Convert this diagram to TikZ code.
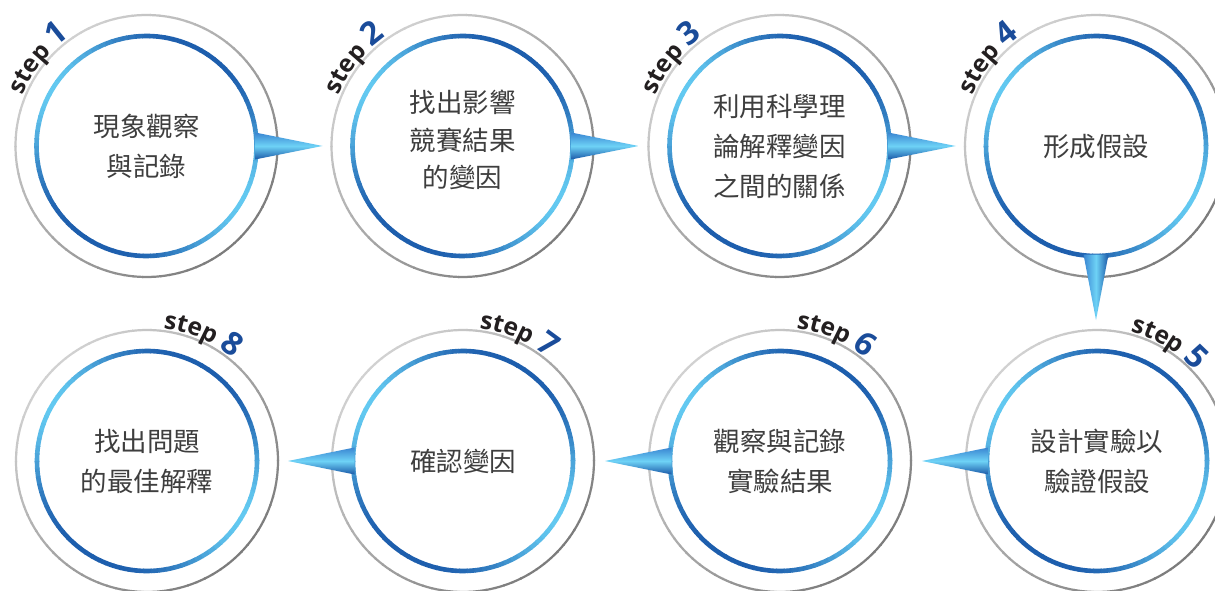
\documentclass[tikz,border=0pt]{standalone}
\usepackage{fontspec}
\newfontfamily\cjk{Noto Sans CJK TC}
\newfontfamily\stepfamily{Open Sans}
\usetikzlibrary{calc,decorations.text,shadings}
\definecolor{ringdark}{HTML}{1D5EAD}
\definecolor{ringlight}{HTML}{63C9F1}
\definecolor{greylight}{HTML}{D2D2D2}
\definecolor{greydark}{HTML}{7C7C7C}
\definecolor{arrdark}{HTML}{1A58A8}
\definecolor{arrmid}{HTML}{3A86D2}
\definecolor{arrlight}{HTML}{6ED2F6}
\definecolor{txtgrey}{HTML}{3E3E3E}
\definecolor{stepblack}{HTML}{231F20}
\definecolor{stepblue}{HTML}{1A4C9A}
\newcommand\stepfnt{\stepfamily\bfseries\fontsize{24.5}{24.5}\selectfont\color{stepblack}}
\newcommand\numfnt{\stepfamily\bfseries\fontsize{32}{32}\selectfont\color{stepblue}}
\newcommand\steplabel[3]{\path[decorate, decoration={text along path, text={|\stepfnt|step |\numfnt|#3}}] ($(#1.center)+(#2:133.5)$) arc[start angle=#2, end angle=#2-90, radius=133.5];}
\tikzset{
  lbl/.style={circle, minimum size=220pt, inner sep=0pt, align=center,
    font=\cjk\fontsize{26.5}{40}\selectfont, text=txtgrey},
  harrow/.style={top color=arrmid, bottom color=arrdark, middle color=arrlight},
  varrow/.style={left color=arrmid, right color=arrdark, middle color=arrlight}
}
\begin{document}
\begin{tikzpicture}[x=1pt,y=1pt]
\useasboundingbox (0,0) rectangle (1215,590);
\fill[white] (0,0) rectangle (1215,590);
\clip (0,0) rectangle (1215,590);
% circles with texts
\node[lbl] (c1) at (146.5,444) {現象觀察\\與記錄};
\node[lbl, font=\cjk\fontsize{26.5}{37.5}\selectfont] (c2) at (462.5,444) {};
\node[font=\cjk\fontsize{26.5}{37.5}\selectfont, text=txtgrey, align=center] (c2t) at ($(c2.center)+(0,6)$) {找出影響\\競賽結果\\的變因};
\node[lbl] (c3) at (779.5,444) {利用科學理\\論解釋變因\\之間的關係};
\node[lbl] (c4) at (1096,444) {形成假設};
\node[lbl] (c5) at (1097,129) {設計實驗以\\驗證假設};
\node[lbl] (c6) at (780,129) {觀察與記錄\\實驗結果};
\node[lbl] (c7) at (463,129) {確認變因};
\node[lbl] (c8) at (147,129) {找出問題\\的最佳解釋};
% rings
\foreach \i in {1,...,8}{
  \foreach \a in {0,4,...,356}{
    \pgfmathtruncatemacro\t{50+50*cos(\a+2-135)}
    \draw[line width=2.2pt, draw=greylight!\t!greydark] ($(c\i.center)+(\a:131)$) arc[start angle=\a, end angle=\a+4.5, radius=131];
    \pgfmathtruncatemacro\u{100*((1+cos(2*(\a+2-150)))/2)^1.6}
    \draw[line width=4.6pt, draw=ringlight!\u!ringdark] ($(c\i.center)+(\a:110)$) arc[start angle=\a, end angle=\a+4.5, radius=110];
  }
}
% arrow tips
\coordinate (t1) at ($(c1.center)+(176,0)$);
\coordinate (t2) at ($(c2.center)+(176,0)$);
\coordinate (t3) at ($(c3.center)+(176,0)$);
\coordinate (t4) at ($(c4.center)+(0,-174)$);
\coordinate (t5) at ($(c5.center)+(-175,0)$);
\coordinate (t6) at ($(c6.center)+(-175,0)$);
\coordinate (t7) at ($(c7.center)+(-175,0)$);
\foreach \i in {1,2,3}{
  \shade[harrow] ($(c\i.center)+(108.5,13.5)$) -- (t\i) -- ($(c\i.center)+(108.5,-13.5)$) -- cycle;
}
\shade[varrow] ($(c4.center)+(-12.5,-108.5)$) -- (t4) -- ($(c4.center)+(12.5,-108.5)$) -- cycle;
\foreach \i in {5,6,7}{
  \shade[harrow] ($(c\i.center)+(-108.5,13.5)$) -- (t\i) -- ($(c\i.center)+(-108.5,-13.5)$) -- cycle;
}
% step labels
\steplabel{c1}{158}{1}
\steplabel{c2}{158}{2}
\steplabel{c3}{158}{3}
\steplabel{c4}{158}{4}
\steplabel{c5}{75.5}{5}
\steplabel{c6}{83}{6}
\steplabel{c7}{83}{7}
\steplabel{c8}{83}{8}
\end{tikzpicture}
\end{document}
